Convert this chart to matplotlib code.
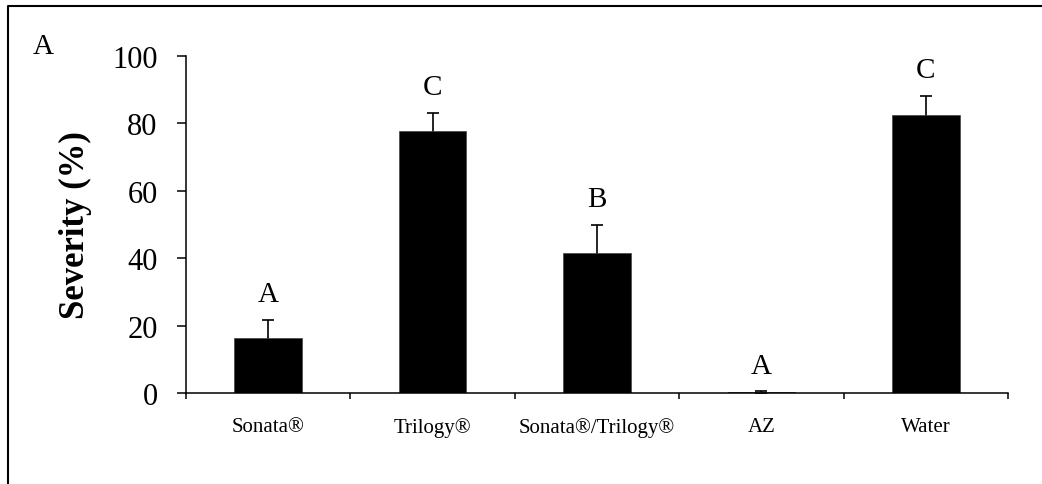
import matplotlib
matplotlib.use("Agg")
import matplotlib.pyplot as plt
from matplotlib.lines import Line2D
import numpy as np

categories = ["Sonata®", "Trilogy®", "Sonata®/Trilogy®", "AZ", "Water"]
severity = [16.3, 77.8, 41.4, 0.3, 82.6]
severity_se = [5.4, 5.3, 8.5, 0.2, 5.6]
groups = ["A", "C", "B", "A", "C"]
y_ticks = [0, 20, 40, 60, 80, 100]

plt.rcParams["font.family"] = ["Liberation Serif", "DejaVu Serif"]

fig = plt.figure(figsize=(10.42, 4.85), dpi=100)
ax = fig.add_axes([0.1785, 0.1876, 0.9674 - 0.1785, 0.8825 - 0.1876])

x = np.arange(len(categories))
ax.bar(x, severity, width=0.41, color="black", edgecolor="#444444", linewidth=0.5, zorder=2)
# drawn under the bars so only the upper half of each error bar shows
ax.errorbar(x, severity, yerr=severity_se, fmt="none",
            ecolor="black", elinewidth=1.2, capsize=4.3, capthick=1.2, zorder=1)
for xi, m, e, g in zip(x, severity, severity_se, groups):
    ax.annotate(g, (xi, m + e), xytext=(0, 9), textcoords="offset points",
                ha="center", va="bottom", fontsize=21)

ax.set_xlim(-0.5, len(categories) - 0.5)
ax.set_ylim(0, 100)
ax.set_yticks(y_ticks)
ax.set_yticklabels([str(t) for t in y_ticks], fontsize=22)
ax.tick_params(axis="y", direction="out", length=6.5, width=1.1, pad=14)

# category labels centred, ticks at the category boundaries
ax.set_xticks(x)
ax.set_xticklabels(categories, fontsize=15)
ax.tick_params(axis="x", which="major", length=0, pad=17)
ax.set_xticks(np.arange(len(categories) + 1) - 0.5, minor=True)
ax.tick_params(axis="x", which="minor", direction="out", length=4, width=1.1)

for s in ["top", "right"]:
    ax.spines[s].set_visible(False)
for s in ["left", "bottom"]:
    ax.spines[s].set_linewidth(1.1)
    ax.spines[s].set_zorder(3)

ax.set_ylabel("Severity (%)", fontsize=25, fontweight="bold")
ax.yaxis.set_label_coords(-0.114, 0.5)

fig.text(43 / 1042, 1 - 47 / 485, "A", fontsize=21, ha="center", va="center")

# outer frame of the panel (cropped on the right and bottom)
fx, fy = 8 / 1042, 1 - 7 / 485
fig.add_artist(Line2D([fx, fx, 1.0], [0.0, fy, fy], transform=fig.transFigure,
                      color="black", linewidth=1.5))

fig.savefig("out.png", dpi=100)
